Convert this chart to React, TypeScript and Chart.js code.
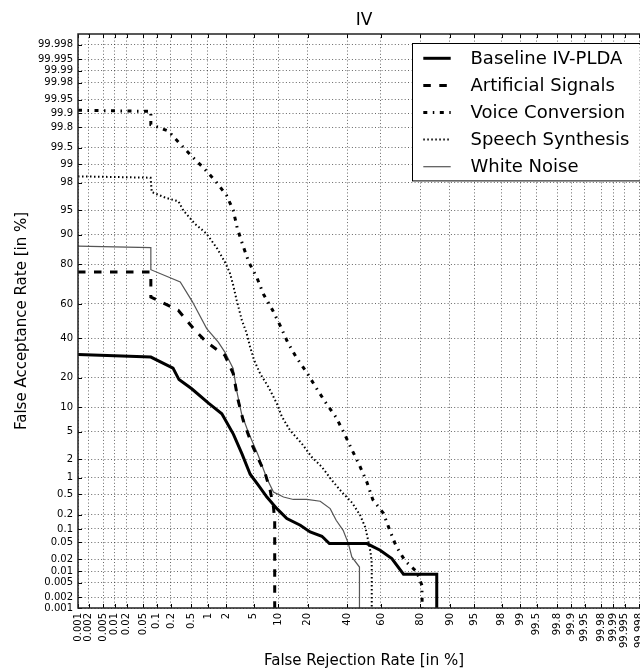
import React, { useEffect, useRef } from "react";
import { Chart, registerables } from "chart.js";
Chart.register(...registerables);

const FONT = "'DejaVu Sans', 'Bitstream Vera Sans', sans-serif";

// Tick labels (in %), identical on both axes
const tickLabels = [
  "0.001", "0.002", "0.005", "0.01", "0.02", "0.05", "0.1", "0.2", "0.5",
  "1", "2", "5", "10", "20", "40", "60", "80", "90", "95", "98", "99",
  "99.5", "99.8", "99.9", "99.95", "99.98", "99.99", "99.995", "99.998",
];
const axisMinPct = 0.001;
const axisMaxPct = 99.999;

// Series: False Rejection Rate (%) and False Acceptance Rate (%)
const baselineFRR = [0.001, 0.074, 0.22, 0.29, 0.51, 1.02, 1.7, 2.58, 3.43, 4.48, 5.78, 7.38, 9.7, 12.5, 17.1, 21.1, 26.5, 30.3, 51.7, 59.5, 66.1, 72.2, 86.1, 86.1];
const baselineFAR = [30.9, 29.6, 24.2, 19.2, 15.7, 11.1, 8.4, 4.6, 2.44, 1.14, 0.73, 0.445, 0.265, 0.166, 0.12, 0.086, 0.069, 0.047, 0.047, 0.033, 0.0207, 0.0084, 0.0084, 0.0001];

const artificialFRR = [0.001, 0.074, 0.074, 0.28, 0.585, 0.94, 1.9, 2.56, 3.03, 3.58, 4.67, 6.02, 7.03, 8.09, 8.85, 9.15, 9.15];
const artificialFAR = [76.7, 76.7, 63.9, 56.3, 44.5, 37.7, 30.5, 21.7, 11.9, 7.0, 3.42, 1.8, 1.17, 0.59, 0.285, 0.153, 0.0001];

const voiceFRR = [0.001, 0.074, 0.074, 0.176, 0.303, 0.506, 0.824, 1.31, 2.02, 2.56, 2.93, 3.55, 4.28, 5.56, 6.7, 8.66, 10.6, 12.8, 15.8, 19.7, 23.8, 28.6, 33.9, 38.5, 42.8, 47.3, 51.7, 55.2, 61.4, 64.8, 68.4, 73.0, 78.4, 80.6, 80.9];
const voiceFAR = [99.913, 99.908, 99.824, 99.762, 99.579, 99.29, 98.87, 98.17, 96.9, 95.0, 91.7, 86.9, 81.0, 73.7, 65.4, 56.3, 47.1, 37.4, 29.1, 22.2, 16.0, 11.1, 7.6, 4.7, 2.8, 1.6, 0.835, 0.40, 0.213, 0.097, 0.041, 0.0183, 0.0097, 0.0043, 0.0001];

const synthesisFRR = [0.001, 0.073, 0.0775, 0.156, 0.284, 0.351, 0.58, 0.94, 1.43, 1.9, 2.26, 2.56, 2.88, 3.43, 3.99, 4.48, 5.07, 6.08, 7.72, 9.7, 11.0, 13.5, 17.7, 21.8, 26.5, 31.6, 37.0, 43.0, 47.7, 50.7, 52.6, 53.9, 54.6, 54.6];
const synthesisFAR = [98.42, 98.34, 97.23, 96.64, 96.23, 95.0, 92.6, 90.3, 85.9, 81.0, 76.5, 70.2, 62.1, 50.4, 43.0, 34.9, 27.96, 21.7, 16.3, 10.97, 7.82, 5.21, 3.42, 2.16, 1.5, 0.896, 0.553, 0.345, 0.194, 0.110, 0.053, 0.0294, 0.0156, 0.0001];

const noiseFRR = [0.001, 0.074, 0.074, 0.307, 0.52, 0.95, 1.49, 1.9, 2.56, 2.87, 3.39, 4.21, 5.73, 7.38, 8.85, 11.5, 14.6, 19.7, 25.7, 30.7, 33.9, 37.8, 40.8, 42.8, 47.3, 47.3];
const noiseFAR = [86.7, 86.2, 77.7, 71.9, 61.5, 45.5, 37.7, 32.2, 23.9, 15.2, 8.44, 4.95, 2.3, 0.96, 0.55, 0.445, 0.40, 0.40, 0.37, 0.265, 0.153, 0.0935, 0.047, 0.0227, 0.0128, 0.0001];

const seriesLabels = ["Baseline IV-PLDA", "Artificial Signals", "Voice Conversion", "Speech Synthesis", "White Noise"];

// Inverse normal CDF (Acklam) — the DET axis warping
function probit(p: number): number {
  const a = [-3.969683028665376e1, 2.209460984245205e2, -2.759285104469687e2, 1.38357751867269e2, -3.066479806614716e1, 2.506628277459239];
  const b = [-5.447609879822406e1, 1.615858368580409e2, -1.556989798598866e2, 6.680131188771972e1, -1.328068155288572e1];
  const c = [-7.784894002430293e-3, -3.223964580411365e-1, -2.400758277161838, -2.549732539343734, 4.374664141464968, 2.938163982698783];
  const d = [7.784695709041462e-3, 3.224671290700398e-1, 2.445134137142996, 3.754408661907416];
  const plow = 0.02425;
  const phigh = 1 - plow;
  if (p < plow) {
    const q = Math.sqrt(-2 * Math.log(p));
    return (((((c[0] * q + c[1]) * q + c[2]) * q + c[3]) * q + c[4]) * q + c[5]) / ((((d[0] * q + d[1]) * q + d[2]) * q + d[3]) * q + 1);
  }
  if (p <= phigh) {
    const q = p - 0.5;
    const r = q * q;
    return ((((((a[0] * r + a[1]) * r + a[2]) * r + a[3]) * r + a[4]) * r + a[5]) * q) / (((((b[0] * r + b[1]) * r + b[2]) * r + b[3]) * r + b[4]) * r + 1);
  }
  const q = Math.sqrt(-2 * Math.log(1 - p));
  return -(((((c[0] * q + c[1]) * q + c[2]) * q + c[3]) * q + c[4]) * q + c[5]) / ((((d[0] * q + d[1]) * q + d[2]) * q + d[3]) * q + 1);
}

const pct = (v: number) => probit(v / 100);
const toPoints = (fr: number[], fa: number[]) => fr.map((v, i) => ({ x: pct(v), y: pct(fa[i]) }));
const tickValues = tickLabels.map((t) => pct(parseFloat(t)));
const ZMIN = pct(axisMinPct);
const ZMAX = pct(axisMaxPct);

const framePlugin = {
  id: "detFrame",
  afterDatasetsDraw(chart: any) {
    const { ctx, chartArea, scales } = chart;
    const { left, right, top, bottom } = chartArea;
    ctx.save();
    ctx.strokeStyle = "#000";
    ctx.lineWidth = 1;
    ctx.beginPath();
    for (const v of tickValues) {
      const x = Math.round(scales.x.getPixelForValue(v)) + 0.5;
      ctx.moveTo(x, bottom);
      ctx.lineTo(x, bottom - 4);
      ctx.moveTo(x, top);
      ctx.lineTo(x, top + 4);
      const y = Math.round(scales.y.getPixelForValue(v)) + 0.5;
      ctx.moveTo(left, y);
      ctx.lineTo(left + 4, y);
      ctx.moveTo(right, y);
      ctx.lineTo(right - 4, y);
    }
    ctx.stroke();
    ctx.strokeStyle = "#222";
    ctx.lineWidth = 1.5;
    ctx.strokeRect(left, top, right - left, bottom - top);

    // legend box
    const boxRight = right - 10.5;
    const boxW = 228;
    const boxLeft = boxRight - boxW;
    const boxTop = top + 9.3;
    const rowH = 27.1;
    const boxH = 137.4;
    ctx.fillStyle = "#fff";
    ctx.fillRect(boxLeft, boxTop, boxW, boxH);
    ctx.strokeStyle = "#000";
    ctx.lineWidth = 1;
    ctx.strokeRect(Math.round(boxLeft) + 0.5, Math.round(boxTop) + 0.5, boxW, boxH);
    ctx.font = `18px ${FONT}`;
    ctx.textBaseline = "middle";
    ctx.textAlign = "left";
    chart.data.datasets.forEach((ds: any, i: number) => {
      const y = boxTop + 15 + i * rowH;
      ctx.save();
      ctx.strokeStyle = ds.borderColor;
      ctx.lineWidth = ds.borderWidth;
      ctx.setLineDash(ds.borderDash || []);
      ctx.beginPath();
      ctx.moveTo(boxLeft + 11.8, y);
      ctx.lineTo(boxLeft + 39.2, y);
      ctx.stroke();
      ctx.restore();
      ctx.fillStyle = "#000";
      ctx.fillText(ds.label, boxLeft + 59, y + 1);
    });
    ctx.restore();
  },
};

export default function App() {
  const ref = useRef<HTMLCanvasElement | null>(null);
  useEffect(() => {
    if (!ref.current) return;
    Chart.defaults.font.family = FONT;
    const common = { pointRadius: 0, fill: false, tension: 0, clip: 0, borderCapStyle: "butt" as const };
    const chart = new Chart(ref.current, {
      type: "line",
      data: {
        datasets: [
          { ...common, label: seriesLabels[0], data: toPoints(baselineFRR, baselineFAR), borderColor: "#000", borderWidth: 3, borderDash: [] },
          { ...common, label: seriesLabels[1], data: toPoints(artificialFRR, artificialFAR), borderColor: "#000", borderWidth: 3, borderDash: [7.5, 8.5] },
          { ...common, label: seriesLabels[2], data: toPoints(voiceFRR, voiceFAR), borderColor: "#000", borderWidth: 3, borderDash: [4, 5.5, 1.5, 5.5] },
          { ...common, label: seriesLabels[3], data: toPoints(synthesisFRR, synthesisFAR), borderColor: "#000", borderWidth: 2, borderDash: [1.5, 2.5] },
          { ...common, label: seriesLabels[4], data: toPoints(noiseFRR, noiseFAR), borderColor: "#555", borderWidth: 1.2, borderDash: [] },
        ],
      },
      options: {
        animation: false,
        responsive: false,
        devicePixelRatio: 1,
        layout: { padding: { left: 0, right: 10, top: 0, bottom: 0 } },
        plugins: {
          legend: { display: false },
          tooltip: { enabled: false },
          title: {
            display: true,
            text: "IV",
            fullSize: false,
            color: "#000",
            font: { family: FONT, size: 17, weight: "normal" },
            padding: { top: 10, bottom: 3.6 },
          },
        },
        scales: {
          x: {
            type: "linear",
            min: ZMIN,
            max: ZMAX,
            afterBuildTicks: (s: any) => {
              s.ticks = tickValues.map((v) => ({ value: v }));
            },
            afterFit: (s: any) => {
              s.height = 62;
            },
            ticks: {
              autoSkip: false,
              maxRotation: 90,
              minRotation: 90,
              padding: 5,
              color: "#000",
              font: { family: FONT, size: 10 },
              callback: (_v: any, i: number) => tickLabels[i],
            },
            grid: { color: "rgba(0,0,0,0.6)", lineWidth: 1, drawTicks: false },
            border: { display: false, dash: [1, 2.3] },
            title: {
              display: true,
              text: "False Rejection Rate [in %]",
              color: "#000",
              font: { family: FONT, size: 15 },
              padding: 0,
            },
          },
          y: {
            type: "linear",
            min: ZMIN,
            max: ZMAX,
            afterBuildTicks: (s: any) => {
              s.ticks = tickValues.map((v) => ({ value: v }));
            },
            afterFit: (s: any) => {
              s.width = 78;
            },
            ticks: {
              autoSkip: false,
              padding: 5,
              color: "#000",
              font: { family: FONT, size: 10 },
              callback: (_v: any, i: number) => tickLabels[i],
            },
            grid: { color: "rgba(0,0,0,0.6)", lineWidth: 1, drawTicks: false },
            border: { display: false, dash: [1, 2.3] },
            title: {
              display: true,
              text: "False Acceptance Rate [in %]",
              color: "#000",
              font: { family: FONT, size: 15 },
              padding: { top: 12.7, bottom: 0 },
            },
          },
        },
      },
      plugins: [framePlugin],
    } as any);
    return () => chart.destroy();
  }, []);
  return (
    <div style={{ position: "absolute", left: 0, top: 0, width: 640, height: 670, overflow: "hidden", background: "#fff" }}>
      <canvas ref={ref} width={660} height={670} style={{ width: 660, height: 670, display: "block" }} />
    </div>
  );
}
